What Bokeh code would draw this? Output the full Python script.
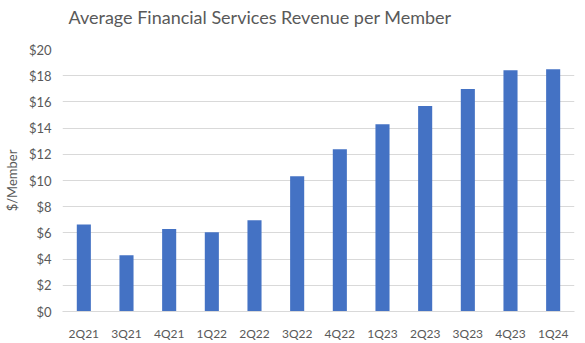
from bokeh.plotting import figure
from bokeh.models import FixedTicker, PrintfTickFormatter, Range1d, ColumnDataSource, Title
from bokeh.embed import file_html
from bokeh.resources import INLINE

quarters = ["2Q21", "3Q21", "4Q21", "1Q22", "2Q22", "3Q22", "4Q22",
            "1Q23", "2Q23", "3Q23", "4Q23", "1Q24"]
revenue = [6.65, 4.3, 6.3, 6.05, 6.97, 10.32, 12.38, 14.3, 15.68, 16.98, 18.42, 18.5]
y_ticks = list(range(0, 21, 2))
title_text = "Average Financial Services Revenue per Member"

FONT = "Lato"
GRAY = "#595959"

src = ColumnDataSource(dict(q=quarters, v=revenue))

p = figure(x_range=quarters, y_range=Range1d(0, 20), width=585, height=343,
           output_backend="svg", toolbar_location=None,
           min_border_left=62, min_border_right=11, min_border_top=49,
           min_border_bottom=32)

p.vbar(x="q", top="v", width=0.33, source=src, color="#4472C4", line_color=None)

# spacer (nearest to the frame), then the real title above it
spacer = Title(text=" ", text_font_size="1px", standoff=19)
p.add_layout(spacer, "above")
main_title = Title(text=title_text, align="left", offset=6, standoff=0,
                   text_font=FONT, text_font_size="18px", text_font_style="normal",
                   text_color=GRAY)
p.add_layout(main_title, "above")

p.outline_line_color = None
p.background_fill_color = "white"
p.border_fill_color = "white"

p.xgrid.grid_line_color = None
p.ygrid.grid_line_color = "#d9d9d9"
p.ygrid.grid_line_width = 1

p.yaxis.ticker = FixedTicker(ticks=y_ticks)
p.yaxis.formatter = PrintfTickFormatter(format="$%d")
p.yaxis.axis_line_color = None
p.yaxis.major_tick_line_color = None
p.yaxis.minor_tick_line_color = None
p.yaxis.major_label_text_font = FONT
p.yaxis.major_label_text_font_size = "13px"
p.yaxis.major_label_text_color = GRAY
p.yaxis.axis_label = "$/Member"
p.yaxis.axis_label_text_font = FONT
p.yaxis.axis_label_text_font_size = "13px"
p.yaxis.axis_label_text_font_style = "normal"
p.yaxis.axis_label_text_color = GRAY
p.yaxis.axis_label_standoff = 6

p.xaxis.axis_line_color = "#d9d9d9"
p.xaxis.major_tick_line_color = None
p.xaxis.minor_tick_line_color = None
p.xaxis.major_label_text_font = FONT
p.xaxis.major_label_text_font_size = "12px"
p.xaxis.major_label_text_color = GRAY
p.xaxis.major_label_standoff = 8
p.x_range.range_padding = 0

open("out.html", "w").write(file_html(p, INLINE))
